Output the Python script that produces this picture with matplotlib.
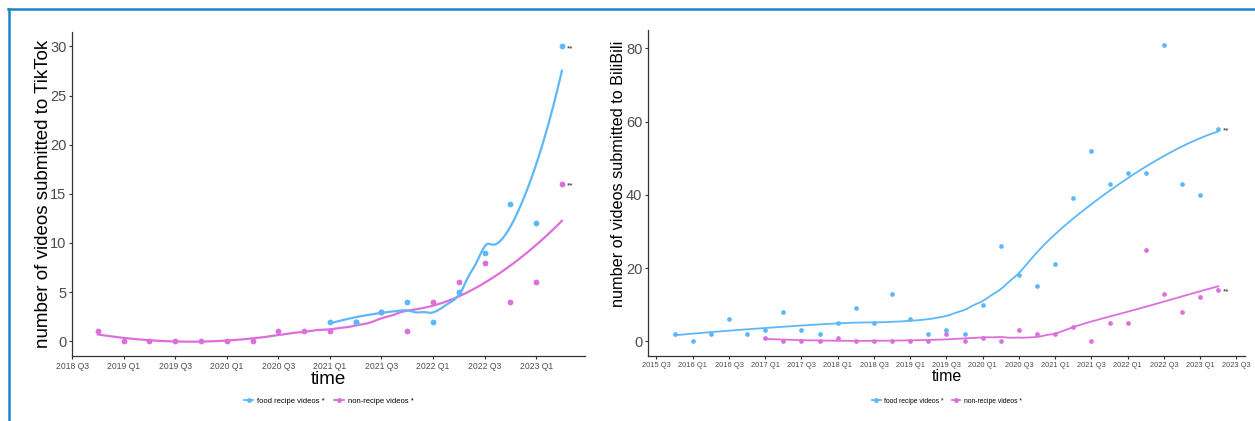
import numpy as np
import matplotlib
matplotlib.use("Agg")
import matplotlib.pyplot as plt
from matplotlib.lines import Line2D

plt.rcParams['font.family'] = ['Liberation Sans', 'DejaVu Sans']

# ---- TikTok data (quarter index, 2018 Q3 = 0) ----
tt_ticks = ['2018 Q3', '2019 Q1', '2019 Q3', '2020 Q1', '2020 Q3',
            '2021 Q1', '2021 Q3', '2022 Q1', '2022 Q3', '2023 Q1']
tt_food_q = [10, 11, 12, 13, 14, 15, 16, 17, 18, 19]
tt_food = [2, 2, 3, 4, 2, 5, 9, 14, 12, 30]
tt_non_q = [1, 2, 3, 4, 5, 6, 7, 8, 9, 10, 11, 12, 13, 14, 15, 16, 17, 18, 19]
tt_non = [1, 0, 0, 0, 0, 0, 0, 1, 1, 1, 2, 3, 1, 4, 6, 8, 4, 6, 16]

# ---- BiliBili data (quarter index, 2015 Q3 = 0) ----
bb_ticks = ['2015 Q3', '2016 Q1', '2016 Q3', '2017 Q1', '2017 Q3', '2018 Q1',
            '2018 Q3', '2019 Q1', '2019 Q3', '2020 Q1', '2020 Q3', '2021 Q1',
            '2021 Q3', '2022 Q1', '2022 Q3', '2023 Q1', '2023 Q3']
bb_food_q = list(range(1, 32))
bb_food = [2, 0, 2, 6, 2, 3, 8, 3, 2, 5, 9, 5, 13, 6, 2, 3, 2, 10, 26, 18,
           15, 21, 39, 52, 43, 46, 46, 81, 43, 40, 58]
bb_non_q = list(range(6, 32))
bb_non = [1, 0, 0, 0, 1, 0, 0, 0, 0, 0, 2, 0, 1, 0, 3, 2, 2, 4, 0, 5, 5,
          25, 13, 8, 12, 14]

BLUE = '#5DB8F9'
PINK = '#DC6FDC'
GREY = '#4D4D4D'


def loess(x, y, span=0.75, n_out=120):
    # local quadratic fit with tricube weights (like ggplot's geom_smooth)
    x = np.asarray(x, float)
    y = np.asarray(y, float)
    q = int(np.floor(len(x) * span))
    xs = np.linspace(x.min(), x.max(), n_out)
    ys = []
    for x0 in xs:
        d = np.abs(x - x0)
        h = np.sort(d)[q - 1]
        w = np.clip(1 - (d / h) ** 3, 0, None) ** 3
        p = np.polyfit(x, y, 2, w=np.sqrt(w))
        ys.append(np.polyval(p, x0))
    return xs, np.array(ys)


def panel(ax, fq, fv, nq, nv, ticks, ylabel, lw, ms, xfs, tfs, yfs):
    xs, ys = loess(nq, nv)
    ax.plot(xs, ys, color=PINK, lw=lw)
    xs, ys = loess(fq, fv)
    ax.plot(xs, ys, color=BLUE, lw=lw)
    ax.plot(nq, nv, 'o', color=PINK, ms=ms, mec='none')
    ax.plot(fq, fv, 'o', color=BLUE, ms=ms, mec='none')
    ax.annotate('**', (fq[-1], fv[-1]), xytext=(3.5, -1.5), textcoords='offset points',
                fontsize=6, color='#222222', va='center')
    ax.annotate('**', (nq[-1], nv[-1]), xytext=(3.5, -1.5), textcoords='offset points',
                fontsize=6, color='#222222', va='center')
    ax.set_xticks(range(0, 2 * len(ticks), 2))
    ax.set_xticklabels(ticks, fontsize=xfs, color=GREY)
    ax.tick_params(axis='x', length=2.5, pad=1.5, color='#333333')
    ax.tick_params(axis='y', length=2.5, pad=1.5, color='#333333', labelsize=10.5,
                   labelcolor=GREY)
    ax.set_xlabel('time', fontsize=tfs, labelpad=0)
    ax.set_ylabel(ylabel, fontsize=yfs)
    for s in ['top', 'right']:
        ax.spines[s].set_visible(False)
    for s in ['left', 'bottom']:
        ax.spines[s].set_color('#333333')
        ax.spines[s].set_linewidth(0.9)


fig = plt.figure(figsize=(12.55, 4.21), dpi=100)

ax1 = fig.add_axes([0.0574, 0.1544, 0.4088, 0.7703])
panel(ax1, tt_food_q, tt_food, tt_non_q, tt_non, tt_ticks,
      'number of videos submitted to TikTok', 1.6, 4.2, 6.2, 13.5, 13.5)
ax1.set_xlim(0, 19.9)
ax1.set_ylim(-1.5, 31.5)
ax1.set_yticks([0, 5, 10, 15, 20, 25, 30])
ax1.yaxis.set_label_coords(-0.040, 0.5)

ax2 = fig.add_axes([0.5163, 0.1544, 0.4761, 0.7743])
panel(ax2, bb_food_q, bb_food, bb_non_q, bb_non, bb_ticks,
      'number of videos submitted to BiliBili', 1.3, 3.4, 5.4, 11.5, 11.7)
ax2.set_xlim(-0.47, 32.5)
ax2.set_ylim(-4.05, 85.05)
ax2.set_yticks([0, 20, 40, 60, 80])
ax2.yaxis.set_label_coords(-0.037, 0.558)

handles = [Line2D([], [], color=BLUE, lw=1.3, marker='o', ms=2.5),
           Line2D([], [], color=PINK, lw=1.3, marker='o', ms=2.5)]
labels = ['food recipe videos *', 'non-recipe videos *']
fig.legend(handles, labels, loc='center', bbox_to_anchor=(0.2618, 0.047), ncol=2,
           frameon=False, fontsize=5.5, handlelength=1.3, columnspacing=1.2,
           handletextpad=0.5)
fig.legend(handles, labels, loc='center', bbox_to_anchor=(0.7544, 0.047), ncol=2,
           frameon=False, fontsize=4.9, handlelength=1.3, columnspacing=1.2,
           handletextpad=0.5)

# blue frame (top and left edges)
fig.add_artist(Line2D([8 / 1255, 1], [1 - 8.5 / 421, 1 - 8.5 / 421],
                      color='#1C86C3', lw=1.8, transform=fig.transFigure))
fig.add_artist(Line2D([9 / 1255, 9 / 1255], [0, 1 - 8.5 / 421],
                      color='#1C86C3', lw=1.8, transform=fig.transFigure))

fig.savefig('out.png', dpi=100)
